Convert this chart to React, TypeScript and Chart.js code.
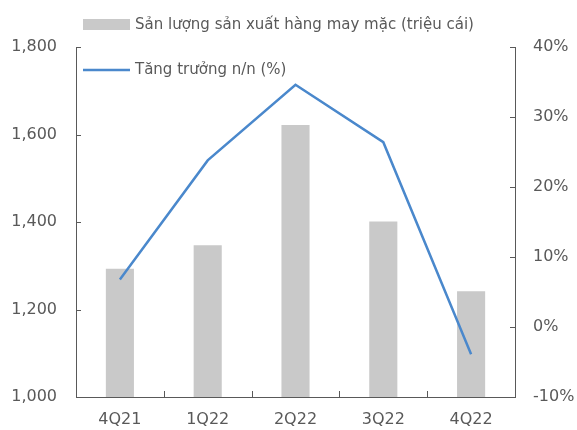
import React, { useEffect, useRef } from "react";
import { Chart, registerables } from "chart.js";

Chart.register(...registerables);

const categories = ["4Q21", "1Q22", "2Q22", "3Q22", "4Q22"];
const outputValues = [1293, 1347, 1622, 1401, 1242];
const growthValues = [6.8, 23.8, 34.6, 26.4, -3.9];
const outputLabel = "Sản lượng sản xuất hàng may mặc (triệu cái)";
const growthLabel = "Tăng trưởng n/n (%)";

const BAR_COLOR = "#C9C9C9";
const LINE_COLOR = "#4A88CC";
const AXIS_COLOR = "#595959";
const TEXT_COLOR = "#595959";
const FONT = "DejaVu Sans";

const customPlugin = {
  id: "customDecor",
  afterDraw(chart: any) {
    const ctx = chart.ctx;
    const x = chart.scales.x;
    const y = chart.scales.y;
    const y1 = chart.scales.y1;
    const area = chart.chartArea;
    ctx.save();
    ctx.strokeStyle = AXIS_COLOR;
    ctx.lineWidth = 1;
    ctx.beginPath();
    // left ticks inward
    y.ticks.forEach((t: any) => {
      const py = Math.round(y.getPixelForValue(t.value)) + 0.5;
      ctx.moveTo(area.left, py);
      ctx.lineTo(area.left + 5, py);
    });
    y1.ticks.forEach((t: any) => {
      const py = Math.round(y1.getPixelForValue(t.value)) + 0.5;
      ctx.moveTo(area.right, py);
      ctx.lineTo(area.right - 5, py);
    });
    for (let i = 1; i < categories.length; i++) {
      const px = Math.round((x.getPixelForValue(i - 1) + x.getPixelForValue(i)) / 2) + 0.5;
      ctx.moveTo(px, area.bottom);
      ctx.lineTo(px, area.bottom - 6);
    }
    ctx.stroke();

    // legend
    const ds = chart.data.datasets;
    ctx.font = `15px "${FONT}"`;
    ctx.fillStyle = TEXT_COLOR;
    ctx.textBaseline = "middle";
    ctx.textAlign = "left";
    ctx.fillStyle = BAR_COLOR;
    ctx.fillRect(83, 19, 47, 11);
    ctx.fillStyle = TEXT_COLOR;
    ctx.fillText(ds[1].label, 135, 25);
    ctx.strokeStyle = LINE_COLOR;
    ctx.lineWidth = 2.5;
    ctx.beginPath();
    ctx.moveTo(83, 70);
    ctx.lineTo(130, 70);
    ctx.stroke();
    ctx.fillText(ds[0].label, 135, 70);
    ctx.restore();
  },
};

export default function App() {
  const ref = useRef<HTMLCanvasElement | null>(null);
  useEffect(() => {
    if (!ref.current) return;
    const chart = new Chart(ref.current, {
      type: "bar",
      data: {
        labels: categories,
        datasets: [
          {
            type: "line",
            label: growthLabel,
            data: growthValues,
            yAxisID: "y1",
            borderColor: LINE_COLOR,
            backgroundColor: LINE_COLOR,
            borderWidth: 2.5,
            pointRadius: 0,
            tension: 0,
            order: 0,
          } as any,
          {
            type: "bar",
            label: outputLabel,
            data: outputValues,
            yAxisID: "y",
            backgroundColor: BAR_COLOR,
            barPercentage: 0.32,
            categoryPercentage: 1,
            order: 1,
          },
        ],
      },
      options: {
        responsive: true,
        maintainAspectRatio: false,
        animation: false,
        layout: { padding: { top: 47, left: 0, right: 0, bottom: 0 } },
        plugins: { legend: { display: false }, tooltip: { enabled: false } },
        scales: {
          x: {
            offset: true,
            grid: { display: true, drawOnChartArea: false, drawTicks: false },
            border: { display: true, color: AXIS_COLOR, width: 1 },
            ticks: { color: TEXT_COLOR, font: { family: FONT, size: 16 }, padding: 13 },
            afterFit: (s: any) => { s.height = 33; },
          },
          y: {
            position: "left",
            min: 1000,
            max: 1800,
            grid: { display: true, drawOnChartArea: false, drawTicks: false },
            border: { display: true, color: AXIS_COLOR, width: 1 },
            ticks: {
              stepSize: 200,
              color: TEXT_COLOR,
              font: { family: FONT, size: 16 },
              padding: 19,
              callback: (v: any) => Number(v).toLocaleString("en-US"),
            },
            afterFit: (s: any) => { s.width = 76; },
          },
          y1: {
            position: "right",
            min: -10,
            max: 40,
            grid: { display: true, drawOnChartArea: false, drawTicks: false },
            border: { display: true, color: AXIS_COLOR, width: 1 },
            ticks: {
              stepSize: 10,
              color: TEXT_COLOR,
              font: { family: FONT, size: 16 },
              padding: 18,
              callback: (v: any) => `${v}%`,
            },
            afterFit: (s: any) => { s.width = 62; },
          },
        },
      },
      plugins: [customPlugin],
    });
    return () => chart.destroy();
  }, []);
  return (
    <div style={{ position: "fixed", left: 0, top: 0, width: 577, height: 430, background: "#fff" }}>
      <canvas ref={ref} />
    </div>
  );
}
